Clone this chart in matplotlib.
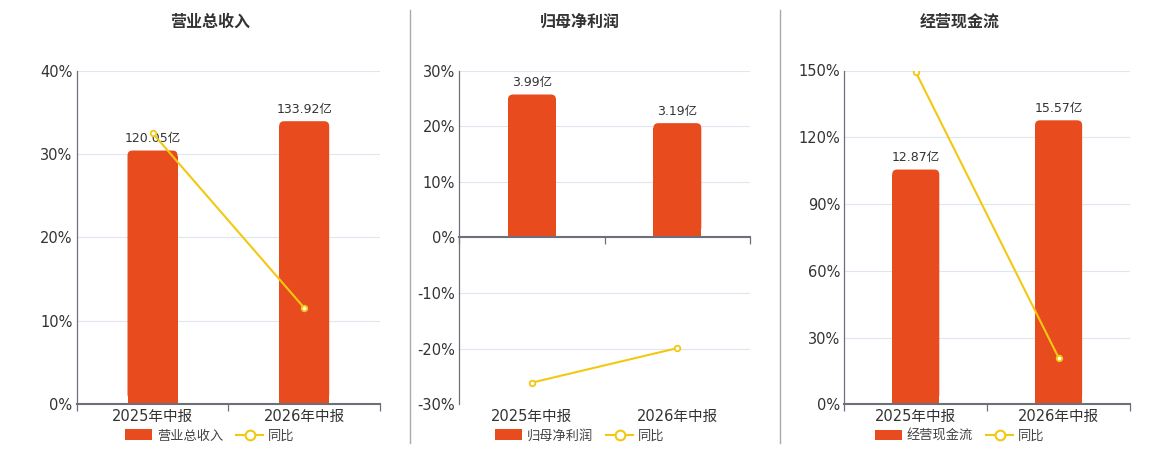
import matplotlib.pyplot as plt
from matplotlib.lines import Line2D
from matplotlib.patches import FancyBboxPatch

plt.rcParams['font.family'] = ['DejaVu Sans', 'Noto Sans CJK SC']

# data
periods = ['2025年中报', '2026年中报']
titles = ['营业总收入', '归母净利润', '经营现金流']
bar_values = [[120.05, 133.92], [3.99, 3.19], [12.87, 15.57]]
bar_labels = [['120.05亿', '133.92亿'], ['3.99亿', '3.19亿'], ['12.87亿', '15.57亿']]
yoy_values = [[32.5, 11.56], [-26.1, -19.9], [149.3, 20.96]]
pct_ticks = [[0, 10, 20, 30, 40], [-30, -20, -10, 0, 10, 20, 30], [0, 30, 60, 90, 120, 150]]
bar_limits = [(0, 157.9), (-4.66, 4.66), (0, 18.3)]

bar_color = '#E84C1E'
line_color = '#F2C811'
text_color = '#333333'
axis_color = '#6E7079'

fig = plt.figure(figsize=(11.6, 4.5), dpi=100)

# axes boxes in pixels: left, right
boxes = [(76.7, 380), (459.3, 750), (844.3, 1130)]
centers = [210, 580, 960]
bottom = 1 - 404.3 / 450
height = (404.3 - 70.5) / 450

for i in range(3):
    l, r = boxes[i]
    ax = fig.add_axes([l / 1160, bottom, (r - l) / 1160, height])
    ax2 = ax.twinx()
    ax3 = ax.twinx()

    x = list(range(len(periods)))
    ax.set_xlim(-0.5, 1.5)
    ax.set_ylim(pct_ticks[i][0], pct_ticks[i][-1])
    ax.set_yticks(pct_ticks[i])
    ax.set_yticklabels([f'{t}%' for t in pct_ticks[i]])
    ax.set_xticks(x)
    ax.set_xticklabels(periods)
    ax.set_xticks([-0.5, 0.5, 1.5], minor=True)
    ax.grid(axis='y', color='#E0E6F1', linewidth=0.8)
    ax.tick_params(axis='y', length=0, labelsize=10.5, colors=text_color, pad=3)
    ax.tick_params(axis='x', which='major', length=0, labelsize=10.5, colors=text_color, pad=3)
    ax.tick_params(axis='x', which='minor', bottom=False)
    for s in ['top', 'right', 'bottom']:
        ax.spines[s].set_visible(False)
    ax.spines['left'].set_color(axis_color)
    ax.spines['left'].set_linewidth(0.9)

    # bars on hidden axis, with rounded tops
    ax2.set_ylim(*bar_limits[i])
    bars = ax2.bar(x, bar_values[i], width=0.33, color=bar_color, zorder=2)
    w_px = (r - l) / 2 * 0.33
    px_x = (r - l) / 2.0
    px_y = (404.3 - 70.5) / (bar_limits[i][1] - bar_limits[i][0])
    rad_px = 5
    for b in bars:
        bx, bw, bh = b.get_x(), b.get_width(), b.get_height()
        b.set_height(bh - rad_px / px_y)
        top = FancyBboxPatch((bx, rad_px / px_y), bw, bh - rad_px / px_y,
                             boxstyle=f'round,pad=0,rounding_size={rad_px / px_x}',
                             mutation_aspect=px_x / px_y,
                             facecolor=bar_color, edgecolor='none', zorder=2)
        ax2.add_patch(top)
    for b, v, lab in zip(bars, bar_values[i], bar_labels[i]):
        ax2.annotate(lab, (b.get_x() + b.get_width() / 2, v),
                     xytext=(0, 4), textcoords='offset points',
                     ha='center', va='bottom', fontsize=9, color=text_color)
    ax2.set_yticks([])
    ax2.xaxis.set_visible(True)
    ax2.tick_params(axis='x', which='major', bottom=False, labelbottom=False)
    ax2.tick_params(axis='x', which='minor', bottom=True, length=5,
                    color=axis_color, width=0.9)
    for s in ['top', 'right', 'left']:
        ax2.spines[s].set_visible(False)
    ax2.spines['bottom'].set_position(('data', 0))
    ax2.spines['bottom'].set_color(axis_color)
    ax2.spines['bottom'].set_linewidth(1.5)
    ax2.spines['bottom'].set_zorder(3)

    # yoy line
    ax3.set_ylim(pct_ticks[i][0], pct_ticks[i][-1])
    ax3.plot(x, yoy_values[i], color=line_color, linewidth=1.5, marker='o',
             markersize=4, markerfacecolor='white', markeredgewidth=1.3)
    ax3.set_yticks([])
    for s in ax3.spines.values():
        s.set_visible(False)

    fig.text(centers[i] / 1160, 1 - 22 / 450, titles[i], ha='center', va='center',
             fontsize=11.5, fontweight='bold', color=text_color)

    handles = [
        FancyBboxPatch((0, 0), 1, 1, boxstyle='round,pad=0,rounding_size=0.25',
                       facecolor=bar_color, edgecolor='none'),
        Line2D([0], [0], color=line_color, linewidth=1.5, marker='o', markersize=7,
               markerfacecolor='white', markeredgewidth=1.5),
    ]
    fig.legend(handles, [titles[i], '同比'], loc='center',
               bbox_to_anchor=(centers[i] / 1160, 1 - 436 / 450), ncol=2,
               frameon=False, fontsize=9.5, handlelength=2.0, handleheight=0.9,
               columnspacing=1.0, handletextpad=0.4, labelcolor='#444444')

# separators between panels
for sx in [410, 780]:
    fig.add_artist(Line2D([sx / 1160, sx / 1160], [1 - 10 / 450, 1 - 443 / 450],
                          transform=fig.transFigure, color='#AAAAAA', linewidth=1))

plt.savefig('out.png')
